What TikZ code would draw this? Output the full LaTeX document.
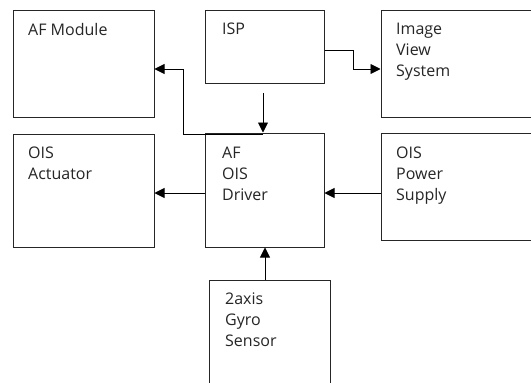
\documentclass[tikz,border=0pt]{standalone}
\usepackage{fontspec}
\setmainfont{Open Sans}
\usetikzlibrary{arrows.meta}
\begin{document}
\begin{tikzpicture}[x=1pt,y=-1pt,
  box/.style={draw=black!85, line width=1pt, inner sep=0pt},
  txt/.style={anchor=north west, align=left, inner sep=0pt, font=\fontsize{16}{21}\selectfont, text=black!85},
  conn/.style={draw=black, line width=0.9pt, -{Triangle[length=10pt,width=10pt]}}]
\useasboundingbox (0,0) rectangle (531,383);
\clip (0,0) rectangle (531,383);
\fill[white] (0,0) rectangle (531,383);
% boxes
\node[box, minimum width=141pt, minimum height=107pt] (afm) at (83.5,63.5) {};
\node[box, minimum width=119pt, minimum height=73pt] (isp) at (264.5,46.5) {};
\node[box, minimum width=170pt, minimum height=107pt] (ivs) at (466,63.5) {};
\node[box, minimum width=141pt, minimum height=113pt] (act) at (83.5,190.5) {};
\node[box, minimum width=119pt, minimum height=114pt] (drv) at (264.5,190) {};
\node[box, minimum width=170pt, minimum height=107pt] (pwr) at (466,187) {};
\node[box, minimum width=121pt, minimum height=120pt] (gyr) at (269.5,340) {};
% texts
\node[txt] (tafm) at (28,23) {AF Module};
\node[txt] (tisp) at (222,23) {ISP};
\node[txt] (tivs) at (396,23) {Image\\View\\System};
\node[txt] (tact) at (28,147) {OIS\\Actuator};
\node[txt] (tdrv) at (222,147) {AF\\OIS\\Driver};
\node[txt] (tpwr) at (396,147) {OIS\\Power\\Supply};
\node[txt] (tgyr) at (225,293) {2axis\\Gyro\\Sensor};
% connectors
\coordinate (c1) at (353,50);
\coordinate (c2) at (353,69);
\draw[conn] (isp.east |- c1) -- (c1) -- (c2) -- (ivs.west |- c2);
\coordinate (c3) at (263,93);
\draw[conn] (c3) -- (c3 |- drv.north);
\coordinate (c4) at (183,134);
\coordinate (c5) at (183,69);
\draw[conn] (263,134) -- (c4) -- (c5) -- (afm.east |- c5);
\coordinate (c6) at (0,193);
\draw[conn] (drv.west |- c6) -- (act.east |- c6);
\draw[conn] (pwr.west |- c6) -- (drv.east |- c6);
\coordinate (c7) at (265,0);
\draw[conn] (c7 |- gyr.north) -- (c7 |- drv.south);
\end{tikzpicture}
\end{document}
